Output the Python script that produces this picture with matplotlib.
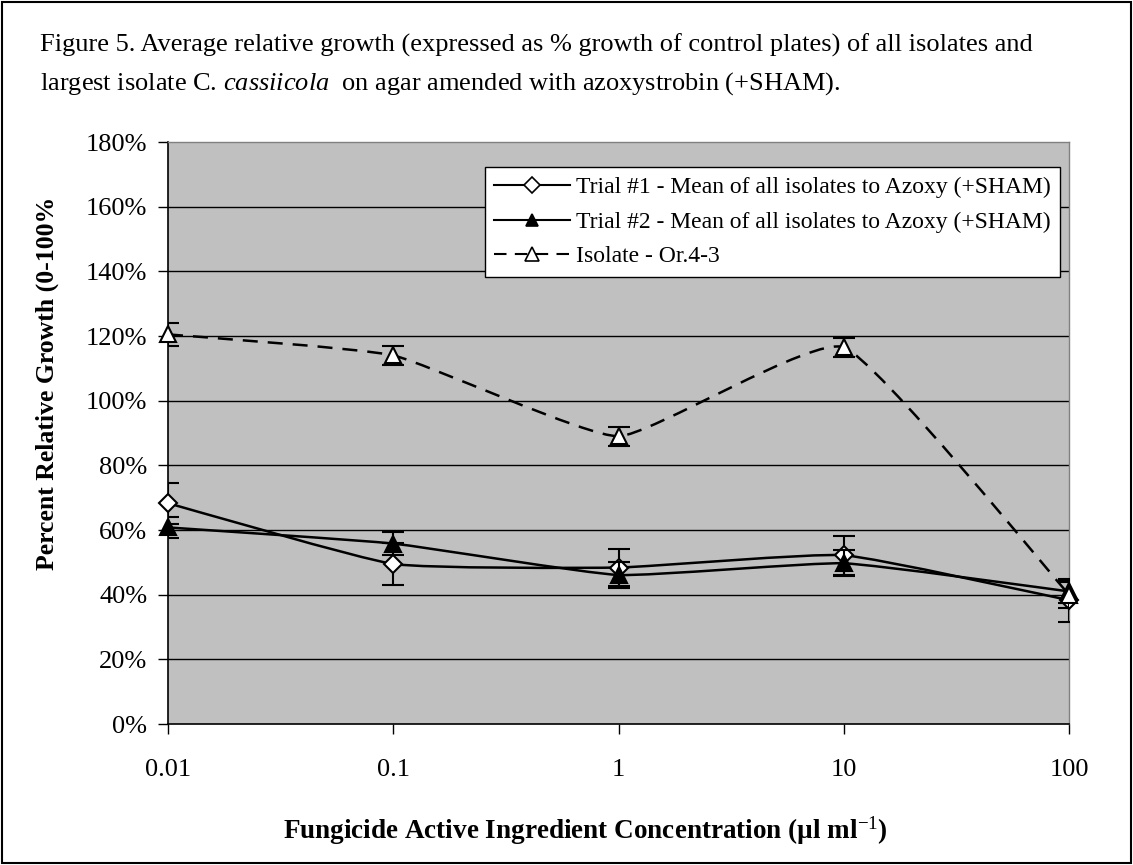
# Relative growth of C. cassiicola isolates on azoxystrobin (+SHAM) amended agar
import numpy as np
import matplotlib
matplotlib.use('Agg')
import matplotlib.pyplot as plt
from matplotlib.path import Path
from matplotlib.patches import PathPatch, Rectangle
from matplotlib.lines import Line2D

# Concentrations (ul/ml) and mean relative growth (% of control)
conc = [0.01, 0.1, 1, 10, 100]
trial1 = [68.3, 49.5, 48.4, 52.2, 38.3]
trial1_err = [6.3, 6.5, 5.8, 6.0, 6.7]
trial2 = [60.8, 55.8, 46.1, 49.7, 41.0]
trial2_err = [3.3, 3.5, 4.0, 4.0, 3.5]
isolate = [120.5, 114.0, 89.0, 116.5, 40.0]
isolate_err = [3.5, 3.0, 3.0, 3.0, 4.0]

labels = ['Trial #1 - Mean of all isolates to Azoxy (+SHAM)',
          'Trial #2 - Mean of all isolates to Azoxy (+SHAM)',
          'Isolate - Or.4-3']
y_ticks = [0, 20, 40, 60, 80, 100, 120, 140, 160, 180]
x_ticks = [0.01, 0.1, 1, 10, 100]
x_ticklabels = ['0.01', '0.1', '1', '10', '100']

plt.rcParams['font.family'] = ['Liberation Serif', 'DejaVu Serif']
plt.rcParams['mathtext.fontset'] = 'custom'
plt.rcParams['mathtext.rm'] = 'Liberation Serif'
plt.rcParams['mathtext.it'] = 'Liberation Serif:italic'
plt.rcParams['mathtext.bf'] = 'Liberation Serif:bold'
plot_bg = '#c0c0c0'
smooth_k = 1.0 / 14  # curve tension for the smoothed lines


# Smoothed line through the points (Bezier segments, spreadsheet style)
def smooth_path(xs, ys):
    u = np.log10(np.asarray(xs, dtype=float))
    v = np.asarray(ys, dtype=float)
    pts = np.column_stack([u, v])
    n = len(pts)
    verts = [pts[0]]
    codes = [Path.MOVETO]
    for i in range(n - 1):
        p_prev = pts[i - 1] if i > 0 else pts[i]
        p_next2 = pts[i + 2] if i + 2 < n else pts[i + 1]
        c1 = pts[i] + (pts[i + 1] - p_prev) * smooth_k
        c2 = pts[i + 1] - (p_next2 - pts[i]) * smooth_k
        verts += [c1, c2, pts[i + 1]]
        codes += [Path.CURVE4] * 3
    verts = np.array(verts)
    verts[:, 0] = 10 ** verts[:, 0]
    return Path(verts, codes)


fig = plt.figure(figsize=(11.33, 8.65), dpi=100)
ax = fig.add_axes([0.1483, 0.163, 0.7952, 0.6728])
ax.set_facecolor(plot_bg)
ax.set_xscale('log')
ax.set_xlim(0.01, 100)
ax.set_ylim(0, 180)

for yv in y_ticks[1:-1]:
    ax.axhline(yv, color='black', lw=1.0, zorder=1)

series = [
    (trial1, trial1_err, '-', 'D', 'white', 9.5),
    (trial2, trial2_err, '-', '^', 'black', 11),
    (isolate, isolate_err, (0, (6, 4)), '^', 'white', 12),
]
for i, (vals, err, ls, mk, mfc, ms) in enumerate(series):
    ax.errorbar(conc, vals, yerr=err, fmt='none', ecolor='black', elinewidth=1.5,
                capsize=8, capthick=1.5, zorder=3 + i)
    ax.add_patch(PathPatch(smooth_path(conc, vals), fill=False, edgecolor='black',
                           lw=1.8, linestyle=ls, zorder=3 + i))
    ax.plot(conc, vals, ls='none', marker=mk, markersize=ms, markerfacecolor=mfc,
            markeredgecolor='black', markeredgewidth=1.5, zorder=3.5 + i, clip_on=False)

handles = [Line2D([], [], color='black', lw=1.5, ls=s[2], marker=s[3], markersize=s[5] * 0.85,
                  markerfacecolor=s[4], markeredgecolor='black', markeredgewidth=1.2)
           for s in series]
leg = ax.legend(handles, labels, loc='upper right', bbox_to_anchor=(0.9900, 0.9565),
                fontsize=17, frameon=True, fancybox=False, framealpha=1,
                edgecolor='black', handlelength=3.2, handletextpad=0.25,
                borderpad=0.4, labelspacing=0.55, borderaxespad=0)
leg.get_frame().set_linewidth(1.0)
leg.set_zorder(10)

ax.set_yticks(y_ticks)
ax.set_yticklabels(['%d%%' % v for v in y_ticks], fontsize=19)
ax.set_xticks(x_ticks)
ax.set_xticklabels(x_ticklabels, fontsize=19)
ax.xaxis.set_minor_locator(matplotlib.ticker.NullLocator())
ax.tick_params(axis='both', direction='out', length=7, width=1.0, color='black')
ax.tick_params(axis='y', pad=8)
ax.tick_params(axis='x', pad=18)

for side in ['top', 'right']:
    ax.spines[side].set_color('#808080')
    ax.spines[side].set_linewidth(1.0)
for side in ['left', 'bottom']:
    ax.spines[side].set_color('black')
    ax.spines[side].set_linewidth(1.2)

ax.set_ylabel('Percent Relative Growth (0-100%', fontsize=18.5, fontweight='bold')
ax.yaxis.set_label_coords(-0.121, 0.585)
ax.set_xlabel('Fungicide Active Ingredient Concentration (µl ml$^{\\rm{-1}}$)',
              fontsize=19.5, fontweight='bold')
ax.xaxis.set_label_coords(0.463, -0.155)

fig.text(0.035, 0.948, 'Figure 5. Average relative growth (expressed as % growth of control plates) of all isolates and',
         fontsize=19, va='center', ha='left')
fig.text(0.035, 0.903, 'largest isolate C. $\\it{cassiicola}$  on agar amended with azoxystrobin (+SHAM).',
         fontsize=19, va='center', ha='left')

fig.patches.append(Rectangle((0.002, 0.002), 0.996, 0.996, transform=fig.transFigure,
                             fill=False, edgecolor='black', lw=1.5))

plt.savefig('out.png', dpi=100)
plt.close('all')
